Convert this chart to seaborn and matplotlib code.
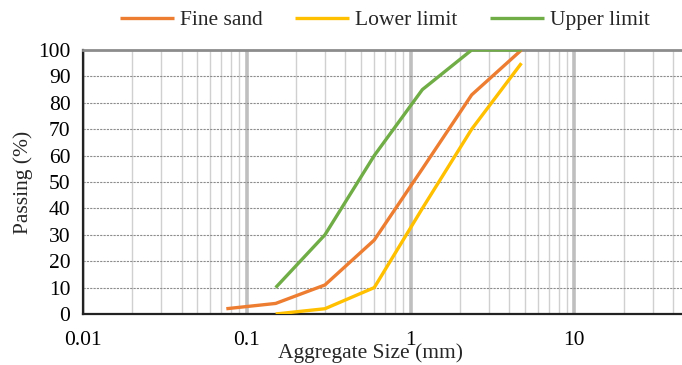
import numpy as np
import pandas as pd
import matplotlib
matplotlib.use("Agg")
import matplotlib.pyplot as plt
import seaborn as sns
from matplotlib.ticker import FixedLocator

sns.set_style("white")
plt.rcParams['font.family'] = ['Liberation Serif', 'DejaVu Serif']

sieve_fine = [0.075, 0.15, 0.3, 0.6, 1.18, 2.36, 4.75]
fine_sand = [2, 4, 11, 28, 55, 83, 100]
sieve_lim = [0.15, 0.3, 0.6, 1.18, 2.36, 4.75]
lower_limit = [0, 2, 10, 40, 70, 95]
upper_limit = [10, 30, 60, 85, 100, 100]
series_names = ["Fine sand", "Lower limit", "Upper limit"]
colors = ["#ED7D31", "#FFC000", "#70AD47"]
xtick_vals = [0.01, 0.1, 1, 10]
xtick_labels = ["0.01", "0.1", "1", "10"]

df = pd.concat([
    pd.DataFrame({"size": sieve_fine, "pass": fine_sand, "series": series_names[0]}),
    pd.DataFrame({"size": sieve_lim, "pass": lower_limit, "series": series_names[1]}),
    pd.DataFrame({"size": sieve_lim, "pass": upper_limit, "series": series_names[2]}),
])

FS = 15.5
fig = plt.figure(figsize=(6.82, 3.65), dpi=100)
ax = fig.add_axes([83/682, 1-314/365, 1-83/682, (314-50)/365])

ax.set_xscale("log")
ax.set_xlim(0.01, 45.4)
ax.set_ylim(0, 100)

# grid
for d in xtick_vals:
    ax.axvline(d, color="#BFBFBF", lw=2.6, zorder=0)
    for m in range(2, 10):
        v = d * m
        if v < 45.4:
            ax.axvline(v, color="#D0D0D0", lw=1.0, zorder=0)
for yv in range(10, 100, 10):
    ax.axhline(yv, color="#8C8C8C", lw=0.8, ls=(0, (2, 1)), zorder=0.5)

sns.lineplot(data=df, x="size", y="pass", hue="series", palette=colors,
             hue_order=series_names, lw=2.4, ax=ax, legend=True, zorder=3,
             solid_capstyle="butt")

ax.xaxis.set_major_locator(FixedLocator(xtick_vals))
ax.set_xticklabels(xtick_labels)
ax.xaxis.set_minor_locator(FixedLocator([]))
ax.set_yticks(range(0, 101, 10))
ax.tick_params(axis="both", labelsize=FS, colors="black", length=5, width=1.0, direction="out")
ax.tick_params(axis="x", pad=7)
ax.tick_params(axis="y", pad=4)

for s in ["left", "bottom"]:
    ax.spines[s].set_color("#222222")
    ax.spines[s].set_linewidth(1.6)
ax.spines["top"].set_color("#8C8C8C")
ax.spines["top"].set_linewidth(2.0)
ax.spines["right"].set_visible(False)

ax.set_xlabel("")
ax.set_ylabel("Passing (%)", fontsize=FS, labelpad=4)
fig.text(370/682, 1-353/365, "Aggregate Size (mm)", ha="center", va="center", fontsize=FS)

handles, labels = ax.get_legend_handles_labels()
ax.legend_.remove()
fig.legend(handles, labels, loc="center", bbox_to_anchor=(385/682, 1-20/365), ncol=3,
           frameon=False, fontsize=FS, handlelength=2.5, columnspacing=1.5, handletextpad=0.3)

fig.savefig("out.png", dpi=100)
